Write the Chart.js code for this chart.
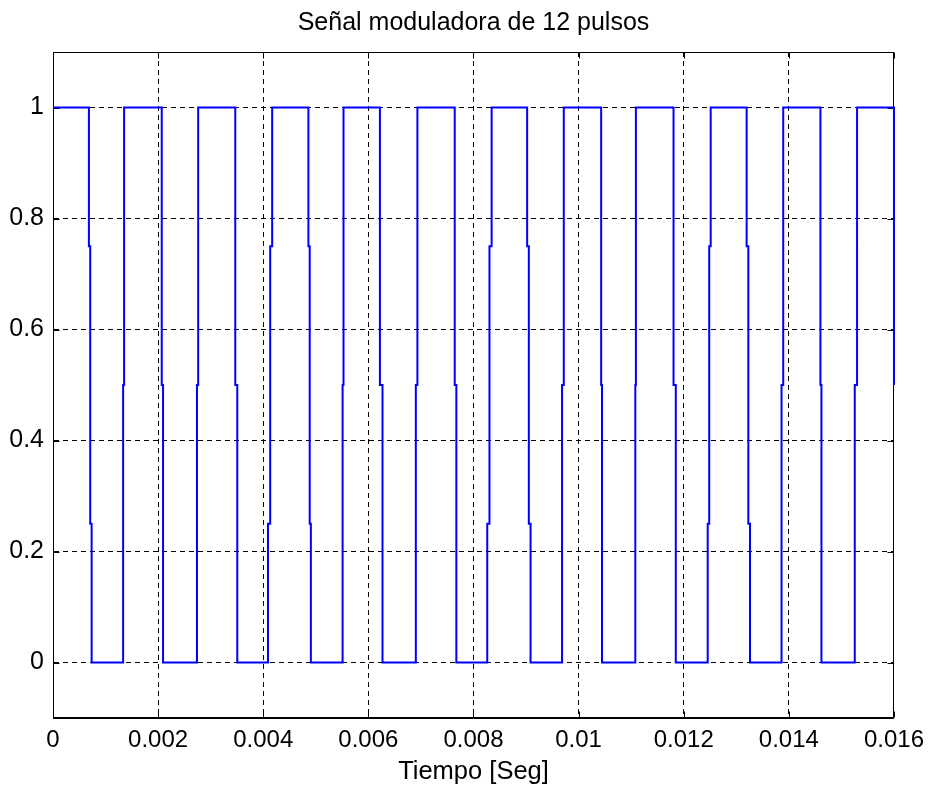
<!DOCTYPE html>
<html><head><meta charset="utf-8">
<script src="https://cdn.jsdelivr.net/npm/chart.js@4/dist/chart.umd.min.js"></script>
<style>html,body{margin:0;padding:0;background:#fff}</style>
</head><body>
<canvas id="c" width="932" height="791"></canvas>
<script>
const titulo = 'Señal moduladora de 12 pulsos';
const etiquetaX = 'Tiempo [Seg]';

// Level-change points of the modulating signal (new value starts at each time)
const tiempo = [
  0,
  0.000683, 0.000708, 0.000735,
  0.001334, 0.001353,
  0.002069, 0.002094,
  0.002739, 0.002762,
  0.003468, 0.003506,
  0.004090, 0.004132, 0.004170,
  0.004859, 0.004884, 0.004906,
  0.005510, 0.005527,
  0.006220, 0.006269,
  0.006903, 0.006933,
  0.007643, 0.007674,
  0.008262, 0.008304, 0.008345,
  0.009021, 0.009053, 0.009086,
  0.009685, 0.009718,
  0.010429, 0.010445,
  0.011079, 0.011090,
  0.011806, 0.011849,
  0.012456, 0.012485, 0.012513,
  0.013197, 0.013229, 0.013261,
  0.013861, 0.013893,
  0.014601, 0.014620,
  0.015254, 0.015298,
  0.016
];
const nivel = [
  1,
  0.75, 0.25, 0,
  0.5, 1,
  0.5, 0,
  0.5, 1,
  0.5, 0,
  0.25, 0.75, 1,
  0.75, 0.25, 0,
  0.5, 1,
  0.5, 0,
  0.5, 1,
  0.5, 0,
  0.25, 0.75, 1,
  0.75, 0.25, 0,
  0.5, 1,
  0.5, 0,
  0.5, 1,
  0.5, 0,
  0.25, 0.75, 1,
  0.75, 0.25, 0,
  0.5, 1,
  0.5, 0,
  0.5, 1,
  0.5
];

const ticksX = [0, 0.002, 0.004, 0.006, 0.008, 0.01, 0.012, 0.014, 0.016];
const etiquetasX = ['0', '0.002', '0.004', '0.006', '0.008', '0.01', '0.012', '0.014', '0.016'];
const ticksY = [0, 0.2, 0.4, 0.6, 0.8, 1];
const etiquetasY = ['0', '0.2', '0.4', '0.6', '0.8', '1'];

const FONT = "'Liberation Sans', Arial, sans-serif";

const boxPlugin = {
  id: 'box',
  afterLayout(chart) {
    if (chart.titleBlock) {
      chart.titleBlock.left = chart.chartArea.left;
      chart.titleBlock.right = chart.chartArea.right;
      chart.titleBlock.width = chart.chartArea.right - chart.chartArea.left;
    }
  },
  beforeDatasetsDraw(chart) {
    const {ctx, chartArea: a, scales} = chart;
    ctx.save();
    ctx.strokeStyle = '#000';
    ctx.lineWidth = 1;
    ctx.setLineDash([]);
    ctx.beginPath();
    const L = Math.round(a.left) + 0.5, R = Math.round(a.right) - 0.5;
    const T = Math.round(a.top) + 0.5, B = Math.round(a.bottom) - 0.5;
    ctx.rect(L, T, R - L, B - T);
    const tl = 6;
    ticksX.forEach(v => {
      const x = Math.round(scales.x.getPixelForValue(v)) + 0.5;
      ctx.moveTo(x, B); ctx.lineTo(x, B - tl);
      ctx.moveTo(x, T); ctx.lineTo(x, T + tl);
    });
    ticksY.forEach(v => {
      const y = Math.round(scales.y.getPixelForValue(v)) + 0.5;
      ctx.moveTo(L, y); ctx.lineTo(L + tl, y);
      ctx.moveTo(R, y); ctx.lineTo(R - tl, y);
    });
    ctx.stroke();
    ctx.restore();
  }
};

new Chart(document.getElementById('c'), {
  type: 'line',
  data: {
    datasets: [{
      data: tiempo.map((t, i) => ({x: t, y: nivel[i]})),
      stepped: 'before',
      borderColor: '#0000ff',
      borderWidth: 2,
      pointRadius: 0,
      fill: false,
      clip: 3
    }]
  },
  options: {
    responsive: false,
    animation: false,
    devicePixelRatio: 1,
    layout: {padding: {left: 0, right: 35, top: 0, bottom: 0}},
    plugins: {
      legend: {display: false},
      tooltip: {enabled: false},
      title: {
        display: true,
        text: titulo,
        color: '#000',
        font: {family: FONT, size: 25, weight: 'normal', lineHeight: 1.2},
        padding: {top: 8, bottom: 14}
      }
    },
    scales: {
      x: {
        type: 'linear',
        min: 0, max: 0.016,
        afterBuildTicks: s => { s.ticks = ticksX.map(v => ({value: v})); },
        afterFit: s => { s.height = 73; },
        ticks: {
          callback: (v, i) => etiquetasX[i],
          color: '#000',
          font: {family: FONT, size: 24},
          maxRotation: 0, autoSkip: false, padding: 8
        },
        grid: {color: '#000', lineWidth: 1, drawTicks: false},
        border: {display: true, color: '#000', dash: [5, 4]},
        title: {
          display: true, text: etiquetaX, color: '#000',
          font: {family: FONT, size: 25.5, lineHeight: 1.2},
          padding: {top: 4, bottom: 4}
        }
      },
      y: {
        type: 'linear',
        min: -0.1, max: 1.1,
        afterBuildTicks: s => { s.ticks = ticksY.map(v => ({value: v})); },
        afterFit: s => { s.width = 53; },
        ticks: {
          callback: (v, i) => etiquetasY[i],
          color: '#000',
          font: {family: FONT, size: 25},
          padding: 9
        },
        grid: {color: '#000', lineWidth: 1, drawTicks: false},
        border: {display: true, color: '#000', dash: [5, 4]}
      }
    }
  },
  plugins: [boxPlugin]
});
</script>
</body></html>
